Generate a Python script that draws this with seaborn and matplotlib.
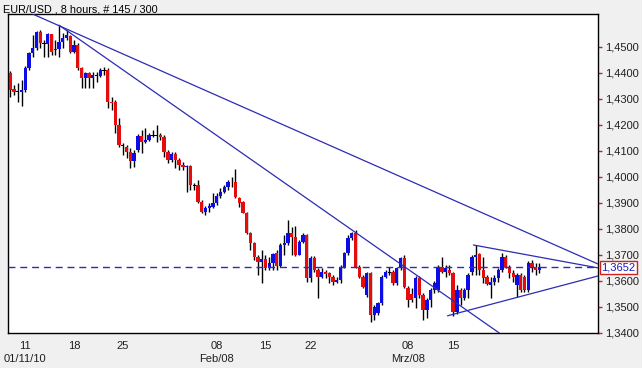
import numpy as np
import matplotlib
matplotlib.use("Agg")
import matplotlib.pyplot as plt
import matplotlib.transforms as mtransforms
import seaborn as sns

# EUR/USD 8h candles
opens = [
    1.4398, 1.4337, 1.4330, 1.4325, 1.4333, 1.4417, 1.4475, 1.4494, 1.4555, 1.4513,
    1.4511, 1.4548, 1.4486, 1.4490, 1.4517, 1.4532, 1.4540, 1.4478, 1.4505, 1.4417,
    1.4379, 1.4398, 1.4379, 1.4390, 1.4388, 1.4409, 1.4409, 1.4287, 1.4287, 1.4198,
    1.4122, 1.4114, 1.4095, 1.4060, 1.4102, 1.4156, 1.4133, 1.4141, 1.4160, 1.4158,
    1.4160, 1.4152, 1.4095, 1.4064, 1.4087, 1.4064, 1.4045, 1.4037, 1.4041, 1.3968,
    1.3968, 1.3903, 1.3865, 1.3880, 1.3884, 1.3899, 1.3926, 1.3941, 1.3960, 1.3980,
    1.3980, 1.3918, 1.3903, 1.3861, 1.3784, 1.3746, 1.3692, 1.3673, 1.3684, 1.3650,
    1.3669, 1.3707, 1.3657, 1.3738, 1.3746, 1.3784, 1.3769, 1.3700, 1.3749, 1.3776,
    1.3611, 1.3688, 1.3642, 1.3615, 1.3634, 1.3630, 1.3615, 1.3596, 1.3604, 1.3654,
    1.3707, 1.3765, 1.3784, 1.3654, 1.3615, 1.3546, 1.3631, 1.3469, 1.3477, 1.3515,
    1.3615, 1.3634, 1.3634, 1.3592, 1.3650, 1.3688, 1.3573, 1.3550, 1.3535, 1.3611,
    1.3546, 1.3489, 1.3527, 1.3565, 1.3565, 1.3654, 1.3634, 1.3642, 1.3631, 1.3481,
    1.3565, 1.3535, 1.3565, 1.3634, 1.3692, 1.3703, 1.3642, 1.3615, 1.3584, 1.3596,
    1.3611, 1.3642, 1.3692, 1.3654, 1.3631, 1.3584, 1.3623, 1.3615, 1.3565, 1.3669,
    1.3654, 1.3642,
]
highs = [
    1.4406, 1.4352, 1.4360, 1.4371, 1.4425, 1.4478, 1.4544, 1.4560, 1.4563, 1.4525,
    1.4552, 1.4550, 1.4525, 1.4582, 1.4551, 1.4563, 1.4544, 1.4525, 1.4513, 1.4421,
    1.4402, 1.4402, 1.4402, 1.4402, 1.4417, 1.4421, 1.4417, 1.4306, 1.4294, 1.4225,
    1.4129, 1.4122, 1.4110, 1.4102, 1.4164, 1.4179, 1.4187, 1.4168, 1.4179, 1.4198,
    1.4168, 1.4160, 1.4102, 1.4095, 1.4095, 1.4072, 1.4056, 1.4045, 1.4045, 1.3976,
    1.3987, 1.3911, 1.3888, 1.3899, 1.3937, 1.3937, 1.3957, 1.3968, 1.3987, 1.3999,
    1.4030, 1.3922, 1.3907, 1.3865, 1.3788, 1.3749, 1.3700, 1.3719, 1.3700, 1.3692,
    1.3707, 1.3719, 1.3746, 1.3776, 1.3834, 1.3807, 1.3811, 1.3757, 1.3784, 1.3780,
    1.3696, 1.3696, 1.3650, 1.3650, 1.3642, 1.3634, 1.3623, 1.3615, 1.3661, 1.3711,
    1.3776, 1.3788, 1.3795, 1.3661, 1.3623, 1.3634, 1.3634, 1.3508, 1.3519, 1.3623,
    1.3642, 1.3654, 1.3642, 1.3654, 1.3692, 1.3700, 1.3581, 1.3573, 1.3619, 1.3619,
    1.3554, 1.3535, 1.3573, 1.3600, 1.3661, 1.3692, 1.3661, 1.3661, 1.3634, 1.3584,
    1.3573, 1.3573, 1.3631, 1.3700, 1.3738, 1.3707, 1.3692, 1.3623, 1.3615, 1.3623,
    1.3650, 1.3707, 1.3700, 1.3661, 1.3642, 1.3631, 1.3631, 1.3623, 1.3677, 1.3680,
    1.3669, 1.3669,
]
lows = [
    1.4306, 1.4313, 1.4287, 1.4271, 1.4325, 1.4409, 1.4459, 1.4486, 1.4494, 1.4459,
    1.4459, 1.4467, 1.4467, 1.4459, 1.4494, 1.4525, 1.4475, 1.4475, 1.4409, 1.4340,
    1.4340, 1.4340, 1.4340, 1.4364, 1.4383, 1.4390, 1.4264, 1.4256, 1.4168, 1.4114,
    1.4083, 1.4072, 1.4033, 1.4037, 1.4095, 1.4091, 1.4129, 1.4137, 1.4152, 1.4133,
    1.4141, 1.4076, 1.4053, 1.4056, 1.4033, 1.4026, 1.4026, 1.3941, 1.3949, 1.3949,
    1.3899, 1.3861, 1.3853, 1.3865, 1.3880, 1.3891, 1.3918, 1.3937, 1.3949, 1.3960,
    1.3918, 1.3884, 1.3861, 1.3780, 1.3719, 1.3680, 1.3623, 1.3592, 1.3642, 1.3642,
    1.3642, 1.3642, 1.3654, 1.3700, 1.3738, 1.3700, 1.3696, 1.3700, 1.3746, 1.3596,
    1.3596, 1.3634, 1.3535, 1.3611, 1.3611, 1.3592, 1.3584, 1.3592, 1.3592, 1.3650,
    1.3700, 1.3757, 1.3650, 1.3611, 1.3573, 1.3538, 1.3442, 1.3450, 1.3469, 1.3508,
    1.3611, 1.3623, 1.3584, 1.3584, 1.3642, 1.3573, 1.3500, 1.3519, 1.3496, 1.3535,
    1.3450, 1.3458, 1.3500, 1.3554, 1.3558, 1.3631, 1.3615, 1.3623, 1.3466, 1.3473,
    1.3508, 1.3527, 1.3535, 1.3623, 1.3623, 1.3623, 1.3592, 1.3584, 1.3535, 1.3584,
    1.3596, 1.3634, 1.3650, 1.3611, 1.3596, 1.3538, 1.3558, 1.3558, 1.3558, 1.3634,
    1.3623, 1.3631,
]
closes = [
    1.4333, 1.4325, 1.4327, 1.4333, 1.4417, 1.4475, 1.4494, 1.4555, 1.4513, 1.4511,
    1.4548, 1.4478, 1.4490, 1.4517, 1.4532, 1.4544, 1.4478, 1.4505, 1.4417, 1.4379,
    1.4398, 1.4379, 1.4390, 1.4388, 1.4409, 1.4407, 1.4287, 1.4283, 1.4198, 1.4122,
    1.4120, 1.4095, 1.4060, 1.4091, 1.4156, 1.4133, 1.4141, 1.4160, 1.4158, 1.4160,
    1.4152, 1.4095, 1.4064, 1.4087, 1.4064, 1.4045, 1.4037, 1.4041, 1.3968, 1.3966,
    1.3903, 1.3865, 1.3880, 1.3888, 1.3899, 1.3926, 1.3941, 1.3960, 1.3980, 1.3978,
    1.3922, 1.3899, 1.3861, 1.3784, 1.3746, 1.3692, 1.3673, 1.3684, 1.3650, 1.3669,
    1.3703, 1.3657, 1.3738, 1.3746, 1.3784, 1.3769, 1.3700, 1.3749, 1.3776, 1.3611,
    1.3688, 1.3642, 1.3615, 1.3634, 1.3627, 1.3615, 1.3596, 1.3604, 1.3654, 1.3707,
    1.3765, 1.3784, 1.3654, 1.3615, 1.3577, 1.3631, 1.3469, 1.3500, 1.3515, 1.3615,
    1.3634, 1.3632, 1.3592, 1.3650, 1.3688, 1.3577, 1.3527, 1.3527, 1.3611, 1.3546,
    1.3489, 1.3527, 1.3565, 1.3592, 1.3654, 1.3634, 1.3650, 1.3631, 1.3481, 1.3565,
    1.3535, 1.3565, 1.3623, 1.3692, 1.3700, 1.3642, 1.3611, 1.3588, 1.3596, 1.3611,
    1.3642, 1.3692, 1.3654, 1.3631, 1.3615, 1.3623, 1.3565, 1.3565, 1.3669, 1.3650,
    1.3642, 1.3652,
]

# x axis labels (candle index of each date tick)
tick_pos = [4, 17, 30, 55, 68, 80, 106, 118]
tick_labels = ["11\n01/11/10", "18", "25", "08\nFeb/08", "15", "22", "08\nMrz/08", "15"]
price_ticks = [1.34, 1.35, 1.36, 1.37, 1.38, 1.39, 1.40, 1.41, 1.42, 1.43, 1.44, 1.45]
last_price = 1.3652

# hand drawn trend lines: (start index, start price, end index, end price)
trendlines = [
    (6.1, 1.4624, 156.6, 1.3665),
    (13.0, 1.4582, 130.3, 1.3400),
    (123.4, 1.3738, 156.6, 1.3650),
    (116.5, 1.3466, 156.6, 1.3619),
]

sns.set_theme(style="white")
plt.rcParams["font.family"] = ["Liberation Sans", "DejaVu Sans"]

line_blue = "#2c2cb4"
up_col = "#0c0ce8"
down_col = "#e40c0c"

fig = plt.figure(figsize=(6.42, 3.68), dpi=100, facecolor="#f0f0f0")
ax = fig.add_axes([8 / 642, 1 - 333 / 368, 590 / 642, 319 / 368])
ax.set_facecolor("white")

o = np.array(opens)
h = np.array(highs)
l = np.array(lows)
c = np.array(closes)
x = np.arange(len(c))

# wicks first, bodies on top
ax.vlines(x, l, h, color="black", lw=1, zorder=2)
body_lo = np.minimum(o, c)
body_h = np.maximum(np.abs(c - o), 0.00012)
colors = []
for oo, cc in zip(o, c):
    if abs(cc - oo) < 0.0003:
        colors.append("black")
    elif cc > oo:
        colors.append(up_col)
    else:
        colors.append(down_col)
ax.bar(x, body_h, bottom=body_lo, width=0.88, color=colors, linewidth=0, zorder=3)

for x0, y0, x1, y1 in trendlines:
    ax.plot([x0, x1], [y0, y1], color=line_blue, lw=0.9, zorder=4)

ax.axhline(last_price, color=line_blue, lw=1, dashes=(5, 3.5), zorder=4)

ax.set_xlim(-0.6, 156.6)
ax.set_ylim(1.3400, 1.4625)

ax.yaxis.tick_right()
ax.set_yticks(price_ticks)
ax.set_yticklabels([f"{v:.4f}".replace(".", ",") for v in price_ticks])
ax.set_xticks(tick_pos)
ax.set_xticklabels(tick_labels, linespacing=1.35)
ax.tick_params(axis="both", colors="#d02020", labelcolor="#202020",
               labelsize=8, length=3, width=1, direction="out")
ax.tick_params(axis="y", pad=2)
ax.tick_params(axis="x", pad=3)

for sp in ax.spines.values():
    sp.set_color("black")
    sp.set_linewidth(1)
    sp.set_visible(True)

trans = mtransforms.blended_transform_factory(ax.transAxes, ax.transData)
ax.text(1.006, last_price, f"{last_price:.4f}".replace(".", ","), transform=trans,
        ha="left", va="center", fontsize=8, color="#1a1ac0", zorder=6,
        bbox=dict(boxstyle="square,pad=0.12", fc="white", ec="#d02020", lw=1))

fig.text(3 / 642, 1 - 9 / 368, "EUR/USD , 8 hours, # 145 / 300",
         ha="left", va="center", fontsize=7.8, color="black")

fig.savefig("out.png", dpi=100, facecolor=fig.get_facecolor())
